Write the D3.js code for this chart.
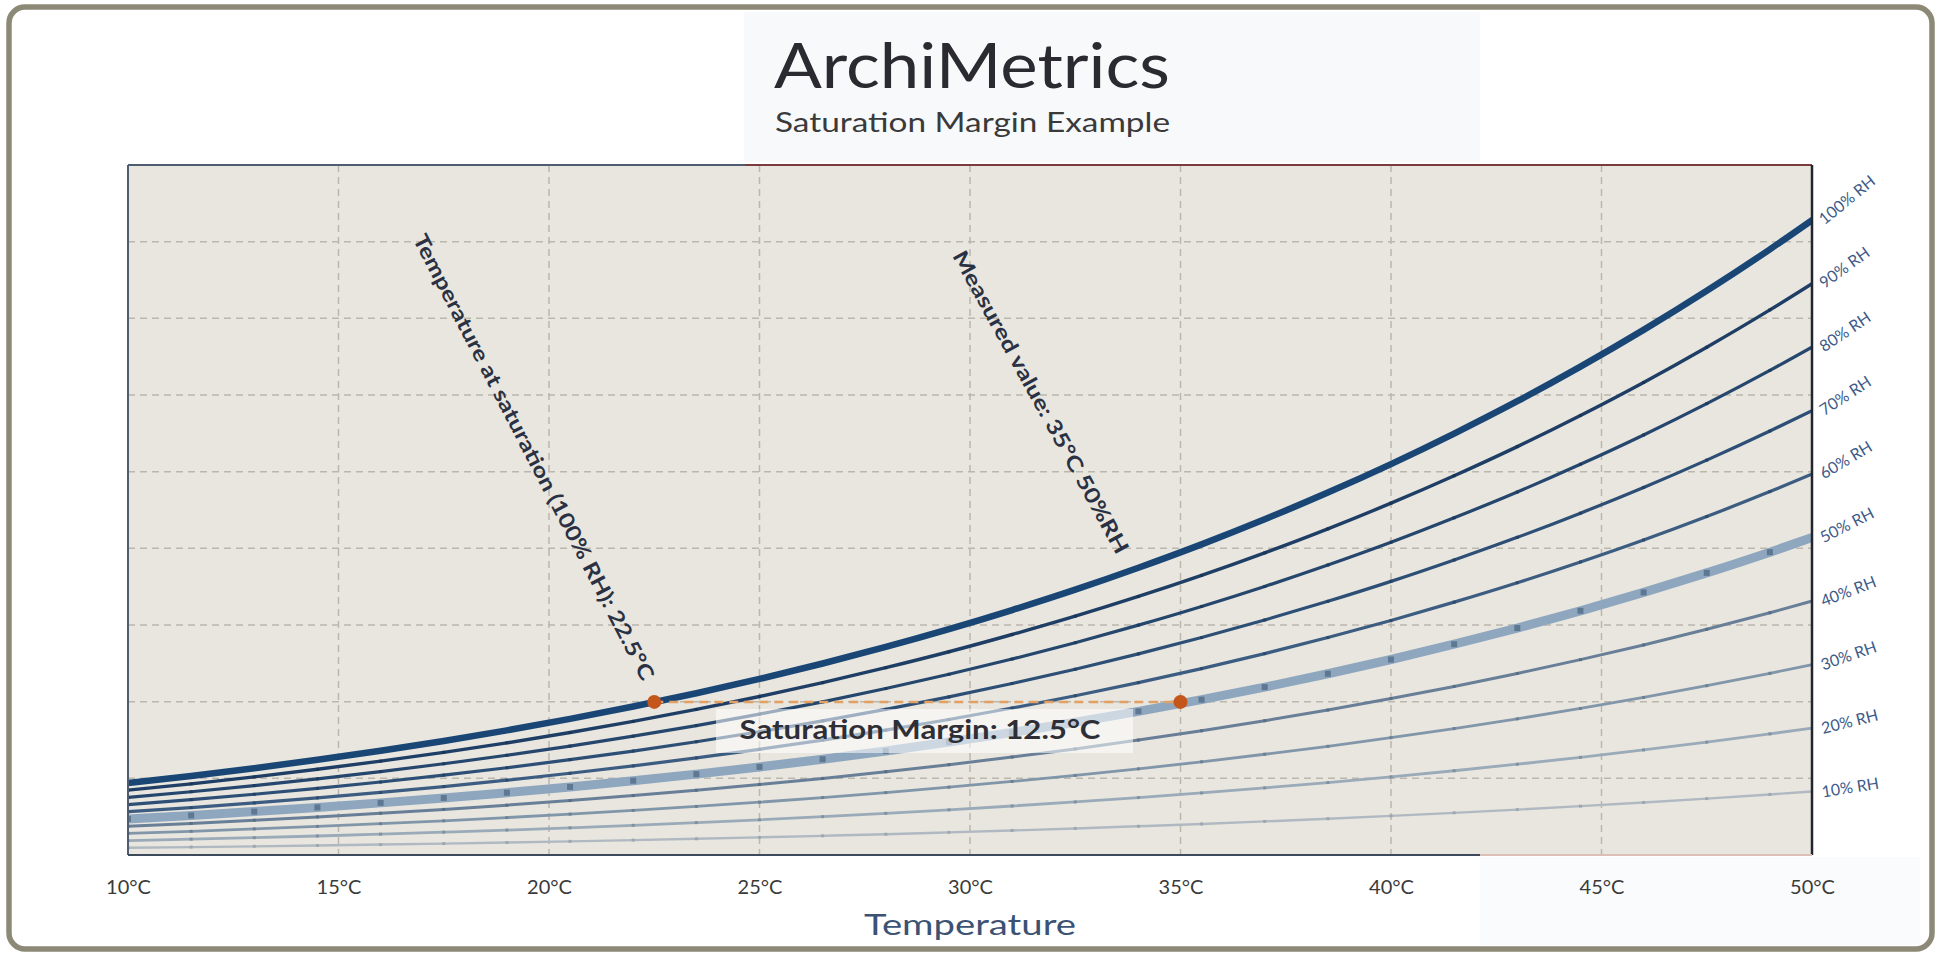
<!DOCTYPE html>
<html>
<head>
<meta charset="utf-8">
<script src="https://cdn.jsdelivr.net/npm/d3@7/dist/d3.min.js"></script>
<style>
  html, body { margin: 0; padding: 0; background: #ffffff; }
  svg { display: block; }
  text { font-family: Lato, "Open Sans", "DejaVu Sans", sans-serif; }
</style>
</head>
<body>
<svg id="chart" width="1942" height="955"></svg>
<script>
// ---------------- DATA ----------------
const temperatures = [10, 11.5, 13, 14.5, 16, 17.5, 19, 20.5, 22, 23.5, 25, 26.5, 28, 29.5,
  31, 32.5, 34, 35.5, 37, 38.5, 40, 41.5, 43, 44.5, 46, 47.5, 49, 50];

// absolute humidity (g/m³) per relative-humidity curve
const rh100 = [9.40, 10.31, 11.32, 12.42, 13.60, 14.88, 16.26, 17.76, 19.37, 21.10, 22.97, 24.98, 27.14, 29.46,
  31.95, 34.61, 37.47, 40.52, 43.79, 47.27, 50.99, 54.97, 59.19, 63.70, 68.49, 73.59, 79.00, 82.80];
const rh90 = [8.46, 9.28, 10.19, 11.18, 12.24, 13.39, 14.63, 15.98, 17.43, 18.99, 20.67, 22.48, 24.43, 26.51,
  28.76, 31.15, 33.72, 36.47, 39.41, 42.54, 45.89, 49.47, 53.27, 57.33, 61.64, 66.23, 71.10, 74.52];
const rh80 = [7.52, 8.25, 9.06, 9.94, 10.88, 11.90, 13.01, 14.21, 15.50, 16.88, 18.38, 19.98, 21.71, 23.57,
  25.56, 27.69, 29.98, 32.42, 35.03, 37.82, 40.79, 43.98, 47.35, 50.96, 54.79, 58.87, 63.20, 66.24];
const rh70 = [6.58, 7.22, 7.92, 8.69, 9.52, 10.42, 11.38, 12.43, 13.56, 14.77, 16.08, 17.49, 19.00, 20.62,
  22.37, 24.23, 26.23, 28.36, 30.65, 33.09, 35.69, 38.48, 41.43, 44.59, 47.94, 51.51, 55.30, 57.96];
const rh60 = [5.64, 6.19, 6.79, 7.45, 8.16, 8.93, 9.76, 10.66, 11.62, 12.66, 13.78, 14.99, 16.28, 17.68,
  19.17, 20.77, 22.48, 24.31, 26.27, 28.36, 30.59, 32.98, 35.51, 38.22, 41.09, 44.15, 47.40, 49.68];
const rh50 = [4.70, 5.16, 5.66, 6.21, 6.80, 7.44, 8.13, 8.88, 9.69, 10.55, 11.49, 12.49, 13.57, 14.73,
  15.98, 17.31, 18.74, 20.26, 21.90, 23.64, 25.50, 27.49, 29.60, 31.85, 34.25, 36.80, 39.50, 41.40];
const rh40 = [3.76, 4.12, 4.53, 4.97, 5.44, 5.95, 6.50, 7.10, 7.75, 8.44, 9.19, 9.99, 10.86, 11.78,
  12.78, 13.84, 14.99, 16.21, 17.52, 18.91, 20.40, 21.99, 23.68, 25.48, 27.40, 29.44, 31.60, 33.12];
const rh30 = [2.82, 3.09, 3.40, 3.73, 4.08, 4.46, 4.88, 5.33, 5.81, 6.33, 6.89, 7.49, 8.14, 8.84,
  9.59, 10.38, 11.24, 12.16, 13.14, 14.18, 15.30, 16.49, 17.76, 19.11, 20.55, 22.08, 23.70, 24.84];
const rh20 = [1.88, 2.06, 2.26, 2.48, 2.72, 2.98, 3.25, 3.55, 3.87, 4.22, 4.59, 5.00, 5.43, 5.89,
  6.39, 6.92, 7.49, 8.10, 8.76, 9.45, 10.20, 10.99, 11.84, 12.74, 13.70, 14.72, 15.80, 16.56];
const rh10 = [0.94, 1.03, 1.13, 1.24, 1.36, 1.49, 1.63, 1.78, 1.94, 2.11, 2.30, 2.50, 2.71, 2.95,
  3.20, 3.46, 3.75, 4.05, 4.38, 4.73, 5.10, 5.50, 5.92, 6.37, 6.85, 7.36, 7.90, 8.28];

const seriesNames = ["10% RH", "20% RH", "30% RH", "40% RH", "50% RH", "60% RH", "70% RH", "80% RH", "90% RH", "100% RH"];
const seriesValues = [rh10, rh20, rh30, rh40, rh50, rh60, rh70, rh80, rh90, rh100];

const xTickValues = [10, 15, 20, 25, 30, 35, 40, 45, 50];
const xTickLabels = ["10°C", "15°C", "20°C", "25°C", "30°C", "35°C", "40°C", "45°C", "50°C"];
const yGridValues = [10, 20, 30, 40, 50, 60, 70, 80];

const saturationPoint = { t: 22.5, ah: 19.97 };
const measuredPoint = { t: 35, ah: 19.79 };

const titleText = "ArchiMetrics";
const subtitleText = "Saturation Margin Example";
const xAxisTitle = "Temperature";
const annotSaturation = "Temperature at saturation (100% RH): 22.5°C";
const annotMeasured = "Measured value: 35°C  50%RH";
const marginLabel = "Saturation Margin: 12.5°C";

// ---------------- STYLES ----------------
const lineStyles = [
  { color: "#b0b9c1", width: 2.4, marker: "#97a3ad", ms: 3, angle: 9 },   // 10
  { color: "#9aaab8", width: 2.8, marker: "#7a8c9d", ms: 3, angle: 14 },  // 20
  { color: "#8296a9", width: 2.8, marker: "#687d92", ms: 3, angle: 19 },  // 30
  { color: "#687f97", width: 3.0, marker: "#546b83", ms: 3, angle: 21 },  // 40
  { color: "#8ea7bf", width: 9.0, marker: "#56708b", ms: 6, angle: 27 },  // 50
  { color: "#3c5d81", width: 3.2, marker: "#2c4868", ms: 3, angle: 31 },  // 60
  { color: "#2d4f76", width: 3.2, marker: "#223e5f", ms: 3, angle: 33 },  // 70
  { color: "#25466d", width: 3.2, marker: "#1c395b", ms: 3, angle: 34 },  // 80
  { color: "#1f3e65", width: 3.4, marker: "#173254", ms: 3, angle: 36 },  // 90
  { color: "#1a4676", width: 6.5, marker: "#173a60", ms: 0, angle: 39 }   // 100
];

// ---------------- LAYOUT ----------------
const svg = d3.select("#chart");
const plot = { left: 128, right: 1812, top: 165, bottom: 855 };

const x = d3.scaleLinear().domain([10, 50]).range([plot.left, plot.right]);
const y = d3.scaleLinear().domain([0, 90]).range([plot.bottom, plot.top]);

// Frame
svg.append("rect").attr("x", 9).attr("y", 7).attr("width", 1923).attr("height", 942)
  .attr("rx", 16).attr("ry", 16)
  .attr("fill", "#ffffff").attr("stroke", "#8d8977").attr("stroke-width", 5.5);

// subtle panels
svg.append("rect").attr("x", 744).attr("y", 12).attr("width", 736).attr("height", 150)
  .attr("fill", "#f8f9fa");
svg.append("rect").attr("x", 1480).attr("y", 857).attr("width", 440).attr("height", 88)
  .attr("fill", "#fafbfc");

// Plot background
svg.append("rect").attr("x", plot.left).attr("y", plot.top)
  .attr("width", plot.right - plot.left).attr("height", plot.bottom - plot.top)
  .attr("fill", "#e8e6df");

// Grid
const grid = svg.append("g");
grid.selectAll("line.h").data(yGridValues).enter().append("line")
  .attr("x1", plot.left).attr("x2", plot.right)
  .attr("y1", d => y(d)).attr("y2", d => y(d))
  .attr("stroke", "#bcb7ad").attr("stroke-width", 1.5).attr("stroke-dasharray", "7,5");
grid.selectAll("line.v").data(xTickValues.slice(1, -1)).enter().append("line")
  .attr("y1", plot.top).attr("y2", plot.bottom)
  .attr("x1", d => x(d)).attr("x2", d => x(d))
  .attr("stroke", "#bcb7ad").attr("stroke-width", 1.5).attr("stroke-dasharray", "7,5");

// clip
svg.append("defs").append("clipPath").attr("id", "clip")
  .append("rect").attr("x", plot.left).attr("y", plot.top)
  .attr("width", plot.right - plot.left).attr("height", plot.bottom - plot.top);

const line = d3.line()
  .x((d, i) => x(temperatures[i]))
  .y(d => y(d))
  .curve(d3.curveMonotoneX);

const lines = svg.append("g").attr("clip-path", "url(#clip)");
seriesValues.forEach((vals, k) => {
  const st = lineStyles[k];
  lines.append("path").datum(vals)
    .attr("d", line)
    .attr("fill", "none")
    .attr("stroke", st.color)
    .attr("stroke-width", st.width)
    .attr("stroke-linecap", "round");
  if (st.ms > 0) {
    lines.selectAll(null).data(vals.slice(0, -1)).enter().append("rect")
      .attr("x", (d, i) => x(temperatures[i]) - st.ms / 2)
      .attr("y", d => y(d) - st.ms / 2)
      .attr("width", st.ms).attr("height", st.ms)
      .attr("fill", st.marker).attr("opacity", 0.85);
  }
});

// Plot border
const bl = svg.append("g").attr("fill", "none");
bl.append("line").attr("x1", plot.left).attr("x2", plot.left).attr("y1", plot.top).attr("y2", plot.bottom)
  .attr("stroke", "#4f5d70").attr("stroke-width", 2);
bl.append("line").attr("x1", plot.left).attr("x2", 745).attr("y1", plot.top).attr("y2", plot.top)
  .attr("stroke", "#4f5d70").attr("stroke-width", 2);
bl.append("line").attr("x1", 745).attr("x2", plot.right).attr("y1", plot.top).attr("y2", plot.top)
  .attr("stroke", "#7a3c3c").attr("stroke-width", 2);
bl.append("line").attr("x1", plot.right).attr("x2", plot.right).attr("y1", plot.top).attr("y2", plot.bottom)
  .attr("stroke", "#22262e").attr("stroke-width", 2.5);
bl.append("line").attr("x1", plot.left).attr("x2", 1480).attr("y1", plot.bottom).attr("y2", plot.bottom)
  .attr("stroke", "#3c4a5c").attr("stroke-width", 2);
bl.append("line").attr("x1", 1480).attr("x2", plot.right).attr("y1", plot.bottom).attr("y2", plot.bottom)
  .attr("stroke", "#dcc0b8").attr("stroke-width", 2);

// X axis labels
const xAxis = d3.axisBottom(x).tickValues(xTickValues).tickSize(0)
  .tickFormat((d, i) => xTickLabels[i]);
const gx = svg.append("g").attr("transform", `translate(0,${plot.bottom})`).call(xAxis);
gx.select(".domain").remove();
gx.selectAll("text").attr("font-size", 20).attr("fill", "#3a3a3a")
  .attr("dy", 0).attr("y", 39)
  .style("font-family", "Lato, 'Open Sans', sans-serif");

svg.append("text").attr("x", x(30)).attr("y", 935)
  .attr("text-anchor", "middle").attr("font-size", 29).attr("fill", "#3b5275")
  .attr("textLength", 212).attr("lengthAdjust", "spacingAndGlyphs")
  .text(xAxisTitle);

// RH labels on right
seriesValues.forEach((vals, k) => {
  const st = lineStyles[k];
  const yy = y(vals[vals.length - 1]);
  svg.append("text")
    .attr("transform", `translate(${plot.right + 10},${yy + 2}) rotate(${-st.angle})`)
    .attr("font-size", 16).attr("fill", "#3d5a88")
    .attr("dominant-baseline", "middle")
    .text(seriesNames[k]);
});

// Title
svg.append("text").attr("x", 774).attr("y", 88)
  .attr("font-size", 62).attr("fill", "#2a2a30").attr("font-weight", 400)
  .attr("textLength", 396).attr("lengthAdjust", "spacingAndGlyphs")
  .text(titleText);
svg.append("text").attr("x", 775).attr("y", 132)
  .attr("font-size", 27).attr("fill", "#3a3a3a")
  .attr("textLength", 395).attr("lengthAdjust", "spacingAndGlyphs")
  .text(subtitleText);

// Rotated annotations
svg.append("text")
  .attr("transform", "translate(532,458) rotate(62.6)")
  .attr("text-anchor", "middle").attr("dominant-baseline", "middle")
  .attr("font-size", 21).attr("font-weight", 700).attr("fill", "#2a3142")
  .attr("textLength", 499).attr("lengthAdjust", "spacingAndGlyphs")
  .text(annotSaturation);
svg.append("text")
  .attr("transform", "translate(1039,403) rotate(61.2)")
  .attr("text-anchor", "middle").attr("dominant-baseline", "middle")
  .attr("font-size", 21).attr("font-weight", 700).attr("fill", "#2a3142")
  .attr("textLength", 342).attr("lengthAdjust", "spacingAndGlyphs")
  .text(annotMeasured);

// Saturation margin: dashed line + dots
const yLine = y(saturationPoint.ah);
svg.append("line")
  .attr("x1", x(saturationPoint.t)).attr("x2", x(measuredPoint.t))
  .attr("y1", yLine).attr("y2", yLine)
  .attr("stroke", "#e2a062").attr("stroke-width", 2.5).attr("stroke-dasharray", "9,6");

svg.append("rect").attr("x", 716).attr("y", 709).attr("width", 417).attr("height", 44)
  .attr("fill", "#ffffff").attr("opacity", 0.55);
svg.append("text").attr("x", 920).attr("y", 732)
  .attr("text-anchor", "middle").attr("dominant-baseline", "middle")
  .attr("font-size", 26).attr("font-weight", 700).attr("fill", "#2e2e36")
  .attr("textLength", 361).attr("lengthAdjust", "spacingAndGlyphs")
  .text(marginLabel);

svg.selectAll("circle.pt").data([saturationPoint, measuredPoint]).enter().append("circle")
  .attr("cx", d => x(d.t)).attr("cy", yLine)
  .attr("r", 7).attr("fill", "#c4561c");
</script>
</body>
</html>
